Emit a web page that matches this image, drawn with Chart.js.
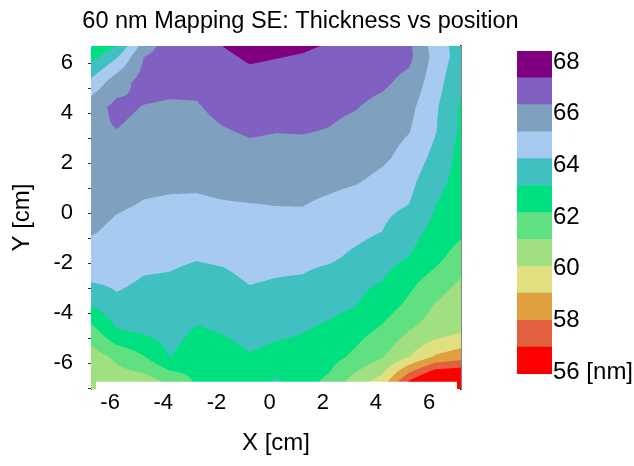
<!DOCTYPE html>
<html>
<head>
<meta charset="utf-8">
<script src="https://cdn.jsdelivr.net/npm/chart.js@4"></script>
<style>
  html, body { margin: 0; padding: 0; background: #ffffff; }
  #wrap { position: relative; width: 634px; height: 466px; overflow: hidden; }
  #main { position: absolute; left: 0; top: 0; }
  #bar { position: absolute; left: 517px; top: 0; }
</style>
</head>
<body>
<div id="wrap">
  <canvas id="main" width="601" height="466"></canvas>
  <canvas id="bar" width="117" height="466"></canvas>
</div>
<script>
// ---- data ----
const xPositions = [-6.75, -5.75, -4.75, -3.75, -2.75, -1.75, -0.75, 0.25, 1.25, 2.25, 3.25, 4.25, 5.25, 6.25, 7.25];
const yPositions = [-6.75, -5.75, -4.75, -3.75, -2.75, -1.75, -0.75, 0.25, 1.25, 2.25, 3.25, 4.25, 5.25, 6.25, 7.25];
// thickness [nm], one row per y position (bottom to top), columns follow xPositions
const thickness = [
  [60.3, 60.6, 60.6, 61.3, 62.3, 62.4, 62.8, 63.3, 62.5, 61.95, 60.6, 59.6, 56.8, 55.0, 55.0],
  [60.6, 61.35, 62.1, 63.25, 62.6, 62.8, 63.15, 62.95, 62.85, 62.55, 61.95, 61.2, 60.1, 58.9, 58.45],
  [61.66, 63.1, 63.35, 63.6, 63.1, 63.27, 63.55, 63.38, 63.25, 62.97, 62.5, 61.95, 61.1, 60.6, 60.1],
  [63.15, 63.97, 63.76, 63.83, 63.52, 63.65, 63.93, 63.79, 63.69, 63.5, 63.22, 62.65, 61.9, 61.0, 60.4],
  [64.28, 64.46, 64.17, 64.13, 63.93, 64.03, 64.31, 64.2, 64.14, 63.8, 63.5, 63.2, 62.45, 61.7, 61.0],
  [64.84, 64.77, 64.53, 64.45, 64.33, 64.42, 64.61, 64.57, 64.54, 64.45, 64.05, 63.65, 63.2, 62.5, 61.6],
  [65.4, 65.07, 64.87, 64.8, 64.73, 64.81, 64.92, 64.93, 64.92, 64.75, 64.55, 64.25, 63.6, 62.9, 62.4],
  [65.7, 65.4, 65.22, 65.15, 65.12, 65.2, 65.24, 65.29, 65.3, 65.05, 64.75, 64.5, 64.22, 63.2, 62.7],
  [65.95, 65.8, 65.5, 65.45, 65.45, 65.56, 65.64, 65.65, 65.66, 65.55, 65.38, 65.0, 64.55, 63.5, 62.85],
  [66.1, 66.1, 65.78, 65.71, 65.72, 65.91, 66.05, 66.0, 66.02, 66.0, 65.85, 65.5, 64.95, 63.95, 62.8],
  [66.2, 66.32, 66.05, 65.98, 66.0, 66.27, 66.45, 66.37, 66.39, 66.3, 66.05, 65.7, 65.33, 64.3, 62.95],
  [65.9, 66.6, 66.32, 66.24, 66.27, 66.65, 66.79, 66.71, 66.7, 66.56, 66.4, 66.05, 65.6, 64.4, 63.0],
  [64.43, 65.9, 66.7, 66.6, 66.6, 66.95, 67.14, 67.06, 67.02, 66.82, 66.75, 66.55, 66.05, 64.7, 63.3],
  [62.8, 64.15, 66.33, 66.9, 66.9, 67.25, 67.5, 67.42, 67.34, 67.15, 66.95, 66.75, 66.6, 64.9, 63.7],
  [61.0, 62.0, 65.0, 67.0, 67.1, 67.6, 67.9, 67.75, 67.7, 67.6, 67.1, 66.85, 66.5, 64.6, 63.8]
];
// contour level boundaries [nm] (12 bands), lowest to highest
const levels = [55.92, 56.96, 58.00, 59.05, 60.09, 61.13, 62.17, 63.22, 64.26, 65.30, 66.35, 67.39, 68.43];
const bandColors = ['#FF0000', '#E06040', '#E0A040', '#E0E080', '#A0E080', '#60E080',
                    '#00E080', '#40C0C0', '#A6CAF0', '#80A0C0', '#8060C0', '#800080'];
const xTickValues = [-6, -4, -2, 0, 2, 4, 6];
const yTickValues = [-7, -6, -5, -4, -3, -2, -1, 0, 1, 2, 3, 4, 5, 6];
const colorbarTicks = [56, 58, 60, 62, 64, 66, 68];

const FONT = "'Liberation Sans', Arial, Helvetica, sans-serif";

function hexToRgb(h) {
  const n = parseInt(h.slice(1), 16);
  return [(n >> 16) & 255, (n >> 8) & 255, n & 255];
}
function locate(arr, v) {
  if (v <= arr[0]) return [0, 0];
  const last = arr.length - 1;
  if (v >= arr[last]) return [last - 1, 1];
  let i = 0;
  while (i < last - 1 && arr[i + 1] < v) i++;
  return [i, (v - arr[i]) / (arr[i + 1] - arr[i])];
}
function sampleThickness(xv, yv) {
  const [i, tx] = locate(xPositions, xv);
  const [j, ty] = locate(yPositions, yv);
  const v00 = thickness[j][i], v10 = thickness[j][i + 1];
  const v01 = thickness[j + 1][i], v11 = thickness[j + 1][i + 1];
  return (v00 * (1 - tx) + v10 * tx) * (1 - ty) + (v01 * (1 - tx) + v11 * tx) * ty;
}
function bandOf(v) {
  let k = 0;
  while (k < levels.length - 2 && v >= levels[k + 1]) k++;
  return k;
}

const contourPlugin = {
  id: 'contourFill',
  beforeDatasetsDraw(chart) {
    const { ctx, chartArea: a, scales } = chart;
    const xs = scales.x, ys = scales.y;
    const w = Math.round(a.right - a.left), h = Math.round(a.bottom - a.top);
    const off = document.createElement('canvas');
    off.width = w; off.height = h;
    const octx = off.getContext('2d');
    const img = octx.createImageData(w, h);
    const rgb = bandColors.map(hexToRgb);
    const S = 3;
    const xv = [], yv = [];
    for (let i = 0; i < w * S; i++) xv.push(xs.getValueForPixel(a.left + (i + 0.5) / S));
    for (let j = 0; j < h * S; j++) yv.push(ys.getValueForPixel(a.top + (j + 0.5) / S));
    for (let j = 0; j < h; j++) {
      for (let i = 0; i < w; i++) {
        let r = 0, g = 0, b = 0;
        for (let sy = 0; sy < S; sy++) {
          for (let sx = 0; sx < S; sx++) {
            const c = rgb[bandOf(sampleThickness(xv[i * S + sx], yv[j * S + sy]))];
            r += c[0]; g += c[1]; b += c[2];
          }
        }
        const p = (j * w + i) * 4, n = S * S;
        img.data[p] = r / n; img.data[p + 1] = g / n; img.data[p + 2] = b / n; img.data[p + 3] = 255;
      }
    }
    octx.putImageData(img, 0, 0);
    ctx.drawImage(off, a.left, a.top);
  },
  afterDatasetsDraw(chart) {
    // white backdrop behind the x tick labels (as in the reference)
    const { ctx, chartArea: a, scales } = chart;
    const yTop = scales.y.getPixelForValue(yPositions[0]);
    ctx.save();
    ctx.fillStyle = '#ffffff';
    ctx.fillRect(a.left + 5, yTop, (a.right - 4) - (a.left + 5), a.bottom - yTop + 4);
    ctx.restore();
  }
};

new Chart(document.getElementById('main'), {
  type: 'scatter',
  data: { datasets: [] },
  options: {
    responsive: false,
    animation: false,
    events: [],
    layout: { padding: 0 },
    plugins: {
      legend: { display: false },
      tooltip: { enabled: false },
      title: {
        display: true,
        text: '60 nm Mapping SE: Thickness vs position',
        color: '#000000',
        font: { family: FONT, size: 23.5, weight: 'normal', lineHeight: 1.2 },
        padding: { top: 7, bottom: 10.8 }
      }
    },
    scales: {
      x: {
        type: 'linear', position: 'bottom', min: -6.72, max: 7.2, z: 1,
        afterBuildTicks: s => { s.ticks = xTickValues.map(v => ({ value: v })); },
        afterFit: s => { s.height = 77; },
        ticks: { color: '#000000', font: { family: FONT, size: 22 }, padding: 1, autoSkip: false, maxRotation: 0 },
        grid: { display: false, drawTicks: false },
        border: { display: false },
        title: { display: true, text: 'X [cm]', color: '#000000', font: { family: FONT, size: 24, lineHeight: 1 }, padding: { top: 0, bottom: 11 } }
      },
      y: {
        type: 'linear', position: 'left', min: -7.04, max: 6.68, z: 1,
        afterBuildTicks: s => { s.ticks = yTickValues.map(v => ({ value: v })); },
        afterFit: s => { s.width = 91; },
        ticks: {
          color: '#000000', font: { family: FONT, size: 22 }, padding: 15, autoSkip: false,
          callback: v => (v % 2 === 0 ? String(v) : '')
        },
        grid: { display: true, drawOnChartArea: false, drawTicks: true, tickLength: 3, color: '#333333' },
        border: { display: true, color: '#555555', width: 1 },
        title: { display: true, text: 'Y [cm]', color: '#000000', font: { family: FONT, size: 24, lineHeight: 1 }, padding: { top: 10, bottom: 0 } }
      },
      yRight: {
        type: 'linear', position: 'right', min: -7.04, max: 6.68, z: 1,
        afterFit: s => { s.width = 140; },
        ticks: { display: false },
        grid: { display: false, drawTicks: false },
        border: { display: true, color: '#111111', width: 1.5 }
      }
    }
  },
  plugins: [contourPlugin]
});

new Chart(document.getElementById('bar'), {
  type: 'bar',
  data: {
    labels: [''],
    datasets: bandColors.map((c, k) => ({
      data: [[levels[k], levels[k + 1]]],
      backgroundColor: c,
      borderWidth: 0,
      grouped: false,
      barPercentage: 1,
      categoryPercentage: 1
    }))
  },
  options: {
    responsive: false,
    animation: false,
    events: [],
    layout: { padding: { left: 0, right: 0, top: 51, bottom: 92 } },
    plugins: { legend: { display: false }, tooltip: { enabled: false }, title: { display: false } },
    scales: {
      x: { display: false },
      y: {
        position: 'right', min: levels[0], max: levels[levels.length - 1],
        afterBuildTicks: s => { s.ticks = colorbarTicks.map(v => ({ value: v })); },
        afterFit: s => { s.width = 82; },
        ticks: {
          color: '#000000', font: { family: FONT, size: 24 }, padding: 1, autoSkip: false,
          callback: v => (v === colorbarTicks[0] ? v + ' [nm]' : String(v))
        },
        grid: { display: false, drawTicks: false },
        border: { display: false }
      }
    }
  }
});
</script>
</body>
</html>
